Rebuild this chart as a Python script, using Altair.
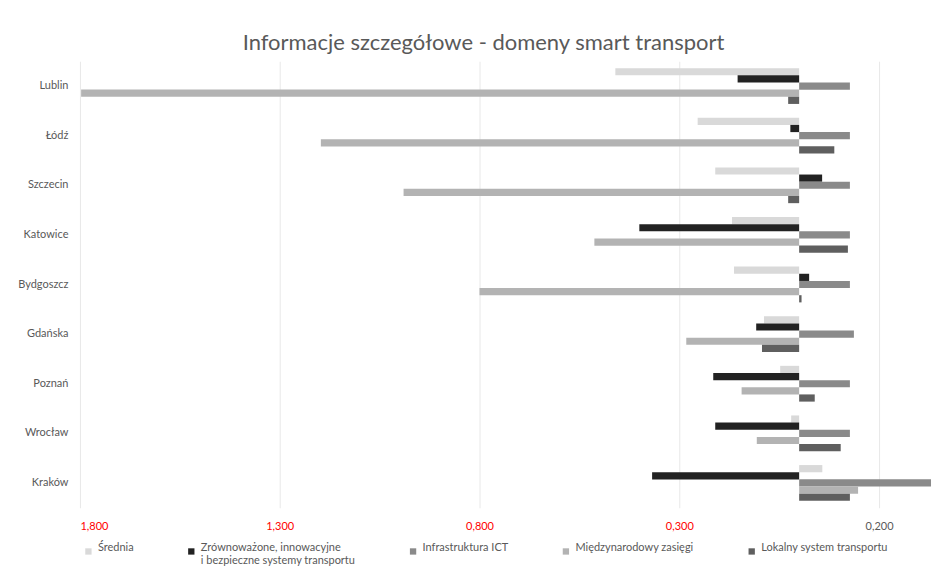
import altair as alt
import pandas as pd

cities = ["Lublin", "Łódź", "Szczecin", "Katowice", "Bydgoszcz", "Gdańska", "Poznań", "Wrocław", "Kraków"]
series = [
    "Średnia",
    "Zrównoważone, innowacyjne\ni bezpieczne systemy transportu",
    "Infrastruktura ICT",
    "Międzynarodowy zasięgi",
    "Lokalny system transportu",
]
colors = ["#d9d9d9", "#222222", "#8a8a8a", "#b3b3b3", "#5f5f5f"]

srednia = [-0.46, -0.254, -0.21, -0.168, -0.163, -0.088, -0.0475, -0.02, 0.058]
zrownowazone = [-0.154, -0.022, 0.0575, -0.40, 0.025, -0.1075, -0.215, -0.21, -0.368]
ict = [0.127, 0.127, 0.127, 0.127, 0.127, 0.137, 0.127, 0.127, 0.33]
miedzynarodowy = [-1.797, -1.197, -0.99, -0.5125, -0.80, -0.2825, -0.144, -0.106, 0.1475]
lokalny = [-0.0275, 0.088, -0.0275, 0.122, 0.006, -0.093, 0.039, 0.104, 0.127]

tick_values = [-1.8, -1.3, -0.8, -0.3, 0.2]

rows = []
for s, vals in zip(series, [srednia, zrownowazone, ict, miedzynarodowy, lokalny]):
    for c, v in zip(cities, vals):
        rows.append({"city": c, "series": s, "value": v})
df = pd.DataFrame(rows)

FONT = "Lato"
GRAY = "#595959"

chart = (
    alt.Chart(df)
    .mark_bar(size=7.2)
    .encode(
        x=alt.X(
            "value:Q",
            scale=alt.Scale(domain=[-1.8, 0.35], nice=False, zero=False),
            axis=alt.Axis(
                values=tick_values,
                title=None,
                domain=False,
                ticks=False,
                grid=True,
                gridColor="#e8e8e8",
                labelExpr="replace(format(abs(datum.value), '.3f'), '.', ',')",
                labelColor=alt.condition("datum.value < 0", alt.value("red"), alt.value(GRAY)),
                labelFont=FONT,
                labelFontSize=11,
                labelPadding=13,
            ),
        ),
        y=alt.Y(
            "city:N",
            sort=cities,
            scale=alt.Scale(paddingInner=0.28, paddingOuter=0.14),
            axis=alt.Axis(
                title=None,
                domain=False,
                ticks=False,
                labelColor=GRAY,
                labelFont=FONT,
                labelFontSize=11,
                labelPadding=12,
                minExtent=72,
                maxExtent=72,
            ),
        ),
        yOffset=alt.YOffset("series:N", sort=series, scale=alt.Scale(domain=series, paddingInner=0, paddingOuter=0)),
        color=alt.Color(
            "series:N",
            sort=series,
            scale=alt.Scale(domain=series, range=colors),
            legend=alt.Legend(
                title=None,
                orient="none",
                direction="horizontal",
                legendX=3,
                legendY=485,
                columns=5,
                columnPadding=52,
                symbolType="square",
                symbolSize=40,
                symbolStrokeWidth=0,
                labelFont=FONT,
                labelFontSize=11,
                labelColor=GRAY,
                labelLimit=300,
                labelBaseline="alphabetic",
                labelExpr="indexof(datum.label, '\\n') >= 0 ? split(datum.label, '\\n') : [datum.label, '']",
            ),
        ),
    )
    .properties(
        width=860,
        height=447,
        padding={"left": 0, "top": 24, "right": 0, "bottom": 0},
        title=alt.TitleParams(
            "Informacje szczegółowe - domeny smart transport",
            font=FONT,
            fontSize=22,
            fontWeight="normal",
            color=GRAY,
            anchor="middle",
            dx=-26,
            offset=6,
        ),
    )
    .configure_view(stroke=None)
)

chart.save("out.html", embed_options={"renderer": "svg", "actions": False})
